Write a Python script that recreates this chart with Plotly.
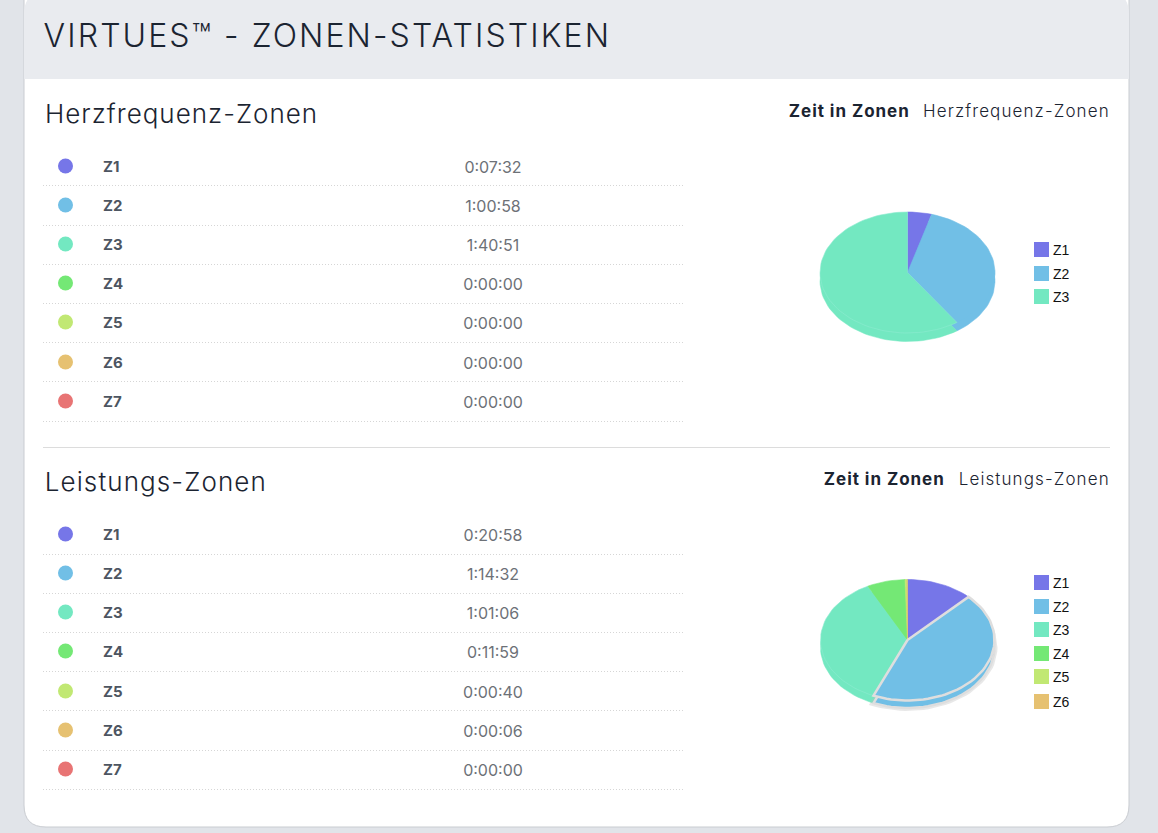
import math
import plotly.graph_objects as go

# Daten
zonen = ["Z1", "Z2", "Z3", "Z4", "Z5", "Z6", "Z7"]
zeiten_hf = ["0:07:32", "1:00:58", "1:40:51", "0:00:00", "0:00:00", "0:00:00", "0:00:00"]
zeiten_leistung = ["0:20:58", "1:14:32", "1:01:06", "0:11:59", "0:00:40", "0:00:06", "0:00:00"]
farben = ["#7676e8", "#71bfe6", "#73e8c1", "#74e875", "#c1e873", "#e6c171", "#e87474"]

FONT = "Inter"
DUNKEL = "#1b2431"


def sekunden(t):
    h, m, s = t.split(":")
    return int(h) * 3600 + int(m) * 60 + int(s)


def keil(start, ende, cx, cy, rx, ry):
    # Kreissegment als Polygon, Winkel im Uhrzeigersinn ab 12 Uhr
    n = max(2, int((ende - start) * 120))
    xs, ys = [cx], [cy]
    for i in range(n + 1):
        a = 2 * math.pi * (start + (ende - start) * i / n)
        xs.append(cx + rx * math.sin(a))
        ys.append(cy - ry * math.cos(a))
    xs.append(cx)
    ys.append(cy)
    return xs, ys


def torte(fig, zeiten, cx, cy, rx, ry, tiefe, markiert=None):
    werte = [sekunden(t) for t in zeiten]
    gesamt = sum(werte)
    teile = []
    laufend = 0
    for i, w in enumerate(werte):
        if w > 0:
            teile.append((i, laufend / gesamt, (laufend + w) / gesamt))
        laufend += w
    # markiertes Segment zuletzt zeichnen
    teile.sort(key=lambda t: t[0] == markiert)
    for i, a, b in teile:
        x, y = keil(a, b, cx, cy + tiefe, rx, ry)
        if i == markiert:
            # weicher Schatten um das markierte Segment
            fig.add_trace(go.Scatter(x=x, y=y, mode="lines",
                                     line=dict(color="rgba(190,190,190,0.35)", width=6)))
        rand = "#dedede" if i == markiert else farben[i]
        fig.add_trace(go.Scatter(x=x, y=y, mode="lines", fill="toself", fillcolor=farben[i],
                                 line=dict(color=rand, width=2.5 if i == markiert else 0.5)))
    for i, a, b in teile:
        x, y = keil(a, b, cx, cy, rx, ry)
        rand = "#dedede" if i == markiert else "#8debd0" if i == 2 else farben[i]
        fig.add_trace(go.Scatter(x=x, y=y, mode="lines", fill="toself", fillcolor=farben[i],
                                 line=dict(color=rand, width=2.5 if i == markiert else 0.6)))
    return [t[0] for t in sorted(teile)]


def tabelle(fig, zeiten, zeilen_y, linien_y):
    text_y = [y + 2.5 for y in zeilen_y]
    fig.add_trace(go.Scatter(x=[65.5] * 7, y=zeilen_y, mode="markers",
                             marker=dict(size=15, color=farben, line=dict(width=0))))
    fig.add_trace(go.Scatter(x=[103] * 7, y=text_y, mode="text", text=zonen, textposition="middle right",
                             textfont=dict(family=FONT, size=15, color="#4d5561", weight="bold")))
    fig.add_trace(go.Scatter(x=[493] * 7, y=text_y, mode="text", text=zeiten, textposition="middle center",
                             textfont=dict(family=FONT, size=16, color="#6d7177")))
    for y in linien_y:
        fig.add_shape(type="line", x0=43, x1=683, y0=y, y1=y, layer="below",
                      line=dict(color="#d6d6d6", width=1, dash="1px,2px"))


def legende(fig, idx, y_liste):
    fig.add_trace(go.Scatter(x=[1041.5] * len(idx), y=y_liste, mode="markers",
                             marker=dict(symbol="square", size=15, color=[farben[i] for i in idx])))
    fig.add_trace(go.Scatter(x=[1053] * len(idx), y=[y + 1.5 for y in y_liste], mode="text",
                             text=[zonen[i] for i in idx], textposition="middle right",
                             textfont=dict(family="Liberation Sans", size=14, color="#111111")))


fig = go.Figure()

# Karte
fig.add_shape(type="path", layer="below", fillcolor="#ffffff", line=dict(color="#c9ccd1", width=1),
              path="M 24 -20 L 1129 -20 L 1129 805 Q 1129 827 1107 827 L 46 827 Q 24 827 24 805 Z")
fig.add_shape(type="path", layer="below", fillcolor="#e9ebef", line=dict(width=0),
              path="M 24 14 Q 24 -8 46 -8 L 1107 -8 Q 1129 -8 1129 14 L 1129 79 L 24 79 Z")
fig.add_shape(type="line", x0=43, x1=1110, y0=447.5, y1=447.5, layer="below", line=dict(color="#dcdcdc", width=1))

# Tabellen
tabelle(fig, zeiten_hf, [166, 205, 244, 283, 322, 362, 401], [185.5, 225.5, 264.5, 303.5, 342.5, 381.5, 421.5])
tabelle(fig, zeiten_leistung, [534, 573, 612, 651, 691, 730, 769], [554.5, 593.5, 632.5, 671.5, 710.5, 750.5, 789.5])

# Torten
idx1 = torte(fig, zeiten_hf, 907.5, 272.5, 87.5, 60.5, 8.5)
idx2 = torte(fig, zeiten_leistung, 907.5, 640, 87, 60.5, 7.5, markiert=1)
legende(fig, idx1, [249.5, 273.5, 296.5])
legende(fig, idx2, [582.5, 606.5, 629.5, 653.5, 676.5, 701.5])

# Texte: Mitte x, y, Text, Groesse, Gewicht, Laufweite
texte = [
    (327.5, 35, "VIRTUES™ - ZONEN-STATISTIKEN", 32, 350, 2.1),
    (181, 113, "Herzfrequenz-Zonen", 26, 350, 1.0),
    (155.5, 481, "Leistungs-Zonen", 26, 350, 1.1),
    (1016.5, 111, "Herzfrequenz-Zonen", 17, 350, 1.1),
    (1034, 479, "Leistungs-Zonen", 17, 350, 1.1),
    (849.5, 111, "Zeit in Zonen", 17, "bold", 0.95),
    (884.5, 479, "Zeit in Zonen", 17, "bold", 0.95),
]
for x, y, t, groesse, gewicht, _ in texte:
    fig.add_annotation(x=x, y=y, text=t, showarrow=False, xanchor="center", yanchor="middle",
                       font=dict(family=FONT, size=groesse, color=DUNKEL, weight=gewicht))

fig.update_layout(
    width=1158, height=833, margin=dict(l=0, r=0, t=0, b=0),
    paper_bgcolor="#e1e4e9", plot_bgcolor="rgba(0,0,0,0)", showlegend=False,
    xaxis=dict(range=[0, 1158], visible=False, fixedrange=True),
    yaxis=dict(range=[833, 0], visible=False, fixedrange=True),
)

# Laufweite gibt es in plotly nicht, daher per CSS nachsetzen
laufweiten = [t[5] for t in texte]
skript = (
    "document.body.style.margin='0';document.body.style.overflow='hidden';"
    f"var lw={laufweiten};"
    "document.querySelectorAll('.annotation-text').forEach(function(e,i){e.style.letterSpacing=lw[i]+'px';});"
)
fig.write_html("out.html", config=dict(displayModeBar=False), post_script=skript)
